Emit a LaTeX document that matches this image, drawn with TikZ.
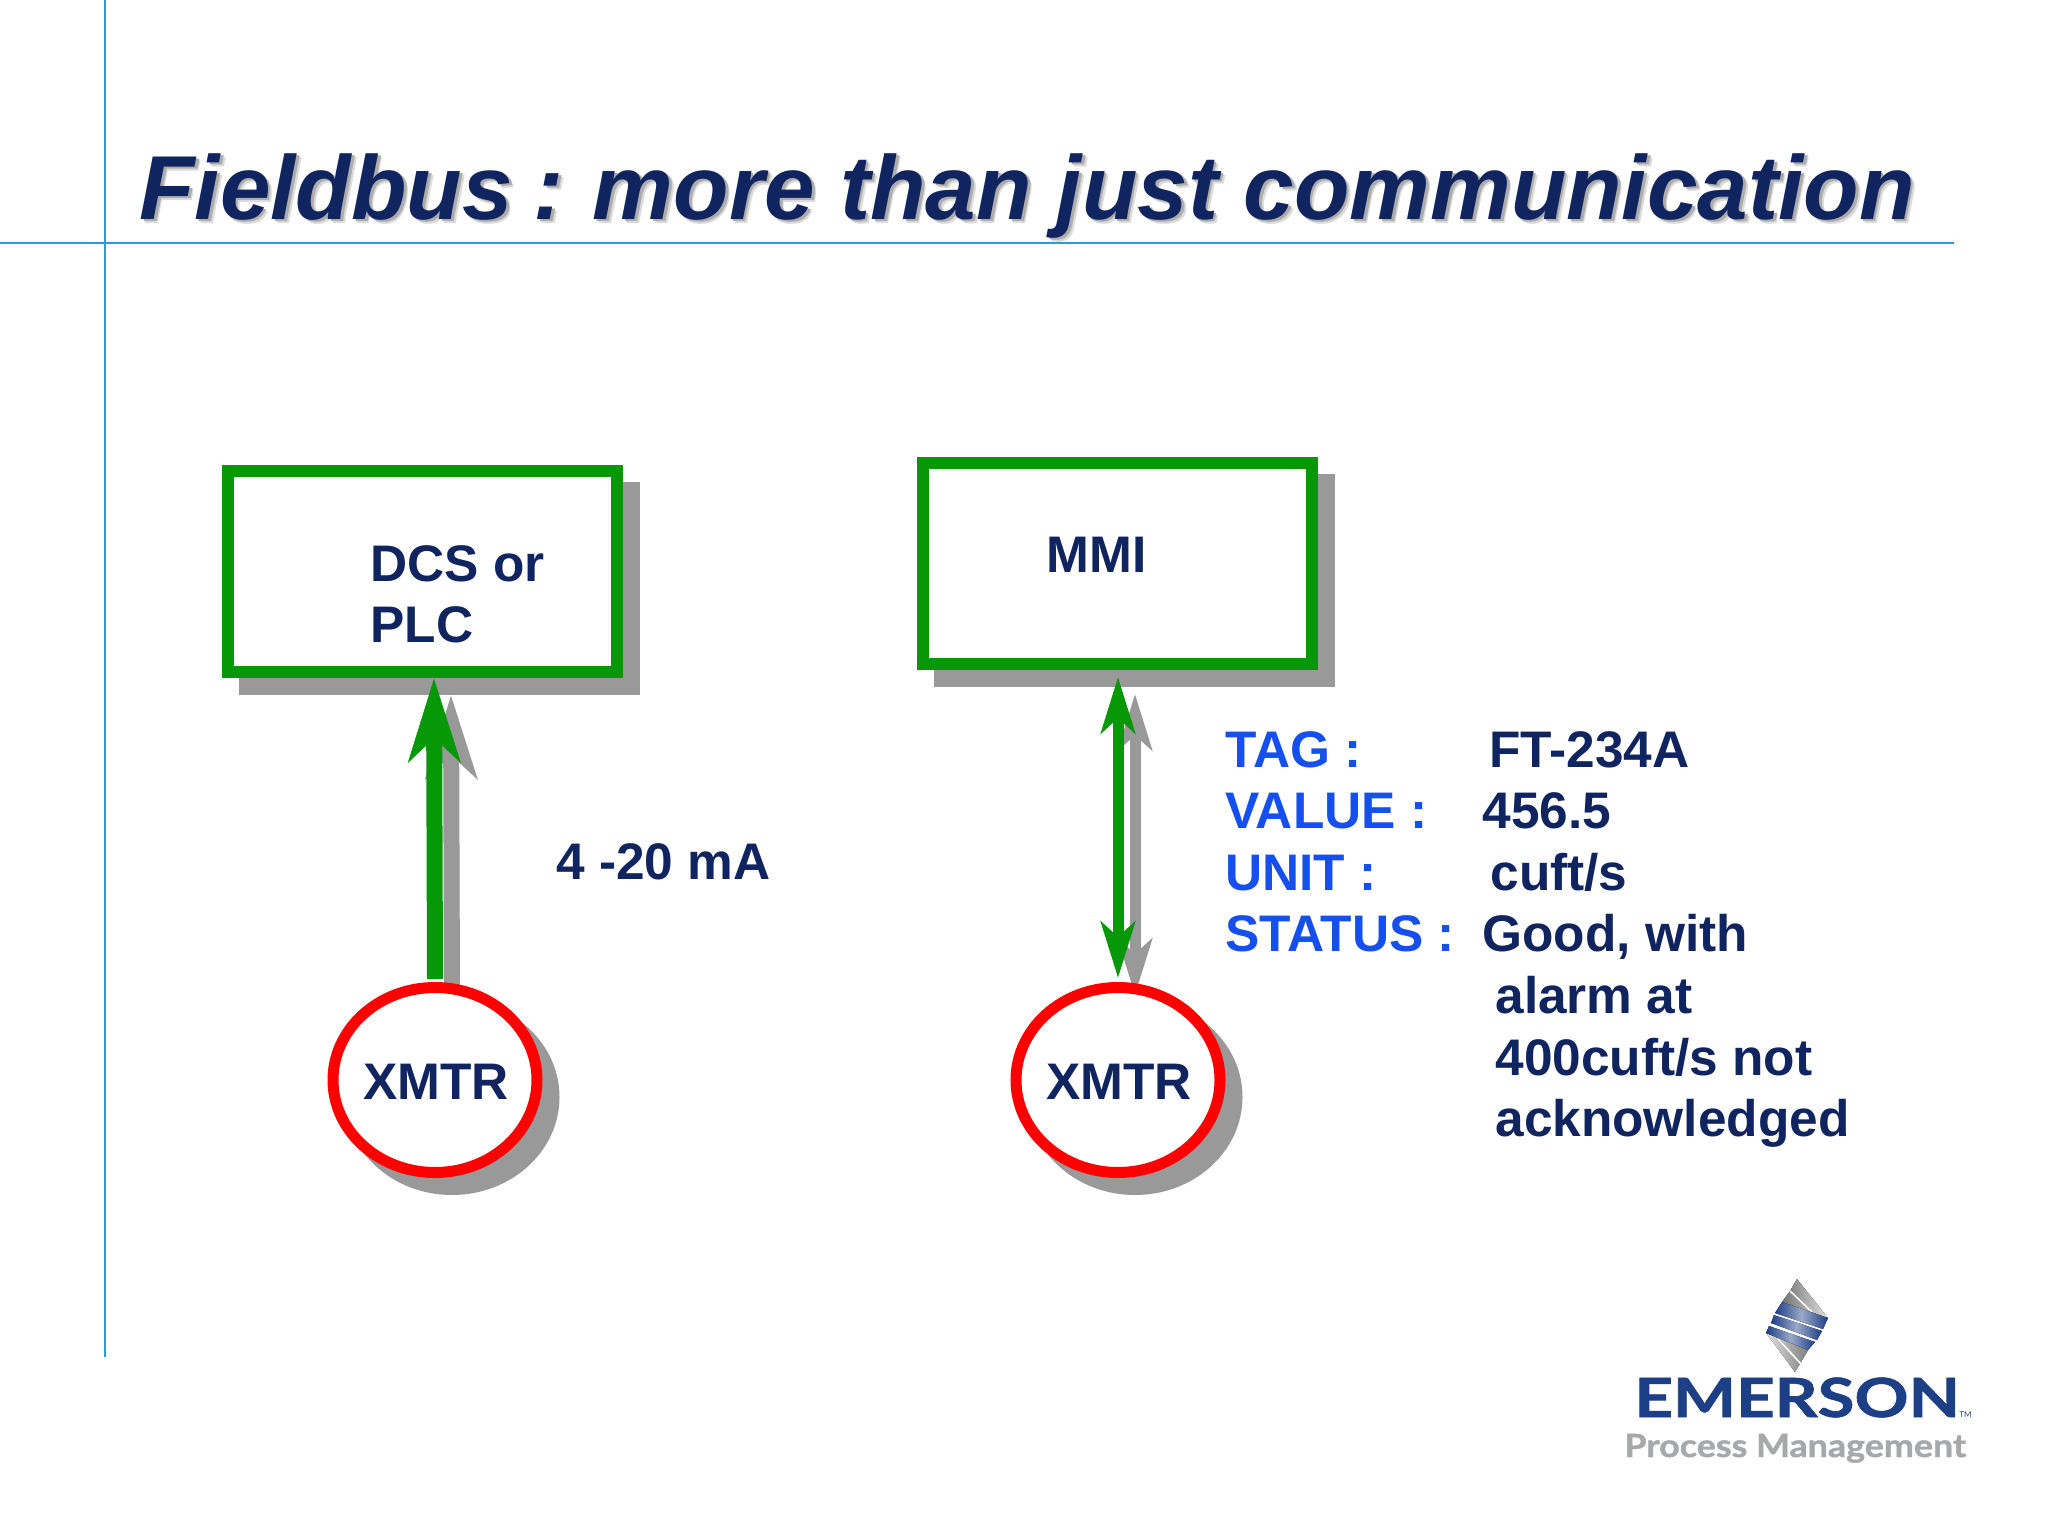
\documentclass[tikz,border=0pt]{standalone}
\usepackage{fontspec}
\setmainfont{Liberation Sans}
\newfontfamily\logofont{Lato}[BoldFeatures={FakeBold=1.2}]
\usetikzlibrary{arrows.meta,shapes.geometric}
\definecolor{navy}{HTML}{10245F}
\definecolor{tagblue}{HTML}{1550EE}
\definecolor{rulecol}{HTML}{2A9BD3}
\definecolor{boxgreen}{HTML}{069806}
\definecolor{shadecol}{HTML}{999999}
\definecolor{logoblue}{HTML}{1D3F86}
\definecolor{logogray}{HTML}{A7A8AA}
\tikzset{
  rulefine/.style={draw=rulecol,line width=1pt},
  devbox/.style={draw=boxgreen,line width=6pt,fill=white,minimum width=194.5pt,minimum height=100.5pt,outer sep=0pt,inner sep=0pt},
  devcircle/.style={ellipse,draw=red,line width=5.5pt,fill=white,minimum width=102pt,minimum height=92.5pt,inner sep=0pt,outer sep=0pt},
  lbl/.style={font=\fontsize{25.7}{30}\selectfont\bfseries,text=navy,anchor=base west,inner sep=0pt},
  taglbl/.style={lbl,text=tagblue},
  ctr/.style={font=\fontsize{25.7}{30}\selectfont\bfseries,text=navy,anchor=base,inner sep=0pt},
  onearrow/.style={line width=8pt,-{Stealth[length=41.5pt,width=25.5pt,inset=11.5pt]}},
  twoarrow/.style={line width=5.5pt,{Stealth[length=28pt,width=17pt,inset=7.5pt]}-{Stealth[length=28pt,width=17pt,inset=7.5pt]}},
  titletxt/.style={font=\fontsize{45.4}{50}\selectfont\bfseries\itshape,anchor=base west,inner sep=0pt},
  band/.style={left color=logoblue,right color=logoblue,middle color=logoblue!45!white,draw=none},
  silverA/.style={left color=black!55,right color=black!12,draw=none},
  silverB/.style={left color=black!12,right color=black!50,draw=none},
  slit/.style={draw=white,line width=0.8pt},
}
\newcommand{\titletext}{Fieldbus\hspace{-2pt} : \hspace{-2.5pt}more than just communication}
\begin{document}
\begin{tikzpicture}[x=0.5pt,y=-0.5pt]
\useasboundingbox (0,0) rectangle (2048,1536);
\fill[white] (0,0) rectangle (2048,1536);
% rules
\coordinate (vtop) at (105,0); \coordinate (vbot) at (105,1357);
\coordinate (hl) at (0,243); \coordinate (hr) at (1954,243);
\draw[rulefine] (vtop) -- (vbot);
\draw[rulefine] (hl) -- (hr);
% title, with its soft shadow in the same node
\node[titletxt,text=navy] (title) at (139,219) {%
  \rlap{\kern2.2pt\raisebox{-2.2pt}{\color{black!14}\titletext}}%
  \rlap{\kern1.4pt\raisebox{-1.4pt}{\color{black!32}\titletext}}%
  \titletext};
% shadows of boxes and circles
\node[devbox,draw=shadecol,fill=shadecol] (boxLs) at (439.5,588.5) {};
\node[devbox,draw=shadecol,fill=shadecol] (boxRs) at (1134.5,580.5) {};
\node[devcircle,draw=shadecol,fill=shadecol] (xmLs) at (452,1097) {};
\node[devcircle,draw=shadecol,fill=shadecol] (xmRs) at (1135,1097) {};
% arrow shadows
\draw[onearrow,color=shadecol] ([yshift=4.25pt]xmLs.north) -- ([xshift=5.75pt,yshift=-3pt]boxLs.south);
\draw[twoarrow,color=shadecol] ([yshift=4.75pt]xmRs.north) -- ([xshift=0.25pt,yshift=-6.5pt]boxRs.south);
% boxes and circles
\node[devbox] (boxL) at (422.5,571.5) {};
\node[devbox] (boxR) at (1117.5,563.5) {};
\node[devcircle] (xmL) at (435,1080) {};
\node[devcircle] (xmR) at (1118,1080) {};
% arrows
\draw[onearrow,color=boxgreen] ([yshift=4.25pt]xmL.north) -- ([xshift=5.75pt,yshift=-3pt]boxL.south);
\draw[twoarrow,color=boxgreen] ([yshift=4.75pt]xmR.north) -- ([xshift=0.25pt,yshift=-6.5pt]boxR.south);
% labels
\node[lbl] (dcs) at (370,581) {DCS or};
\node[lbl] (plc) at (370,642) {PLC};
\node[lbl] (mmi) at (1046,572) {MMI};
\node[ctr] (xl) at (436,1099) {XMTR};
\node[ctr] (xr) at (1119,1099) {XMTR};
\node[lbl] (ma) at (556,879) {4 -20 mA};
\node[taglbl] (t1) at (1225,767) {TAG :};
\node[taglbl] (t2) at (1225,828) {VALUE :};
\node[taglbl] (t3) at (1225,890) {UNIT :};
\node[taglbl] (t4) at (1225,951) {STATUS :};
\node[lbl] (v1) at (1489,767) {FT-234A};
\node[lbl] (v2) at (1482,828) {456.5};
\node[lbl] (v3) at (1490,890) {cuft/s};
\node[lbl] (v4) at (1482,951) {Good, with};
\node[lbl] (v5) at (1495,1013) {alarm at};
\node[lbl] (v6) at (1495,1075) {400cuft/s not};
\node[lbl] (v7) at (1495,1136) {acknowledged};
% logo
\fill[silverA] (1797,1279) -- (1828,1318) -- (1782,1302) -- (1790,1291) -- cycle;
\fill[silverB] (1766,1333) -- (1808,1350) -- (1795,1372) -- cycle;
\draw[slit] (1790,1291) -- (1812,1312);
\draw[slit] (1778,1339) -- (1801,1364);
\fill[band] (1782,1302) -- (1828,1318) -- (1823,1329) -- (1775,1313) -- cycle;
\fill[band] (1774,1315) -- (1822,1331) -- (1817,1340) -- (1771,1323) -- cycle;
\fill[band] (1769,1326) -- (1815,1342) -- (1808,1350) -- (1766,1333) -- cycle;
\node[font=\logofont\fontsize{27}{27}\selectfont\bfseries,text=logoblue,anchor=base west,inner sep=0pt] (emerson) at (1634,1417) {\scalebox{1.24}[1]{EMERSON}};
\node[font=\logofont\fontsize{4}{4}\selectfont,text=logoblue,anchor=base west,inner sep=0pt] (tm) at (1959,1417) {TM};
\node[font=\logofont\fontsize{16}{16}\selectfont\bfseries,text=logogray,anchor=base west,inner sep=0pt] (pm) at (1624,1457) {\scalebox{1.12}[1]{Process Management}};
\end{tikzpicture}
\end{document}
